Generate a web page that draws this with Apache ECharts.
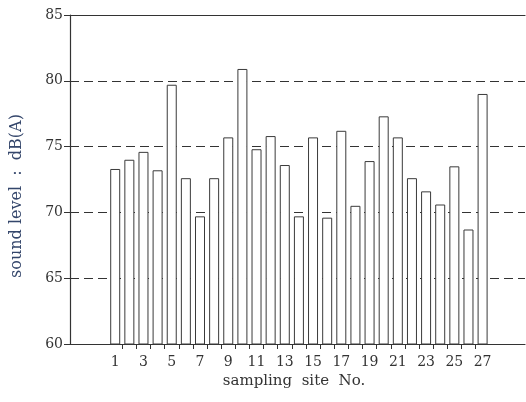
<!DOCTYPE html>
<html>
<head>
<meta charset="utf-8">
<script src="https://cdn.jsdelivr.net/npm/echarts@6/dist/echarts.min.js"></script>
<style>
html,body{margin:0;padding:0;background:#fff;}
#chart{width:526px;height:402px;}
</style>
</head>
<body>
<div id="chart"></div>
<script>
var sites = [1,2,3,4,5,6,7,8,9,10,11,12,13,14,15,16,17,18,19,20,21,22,23,24,25,26,27];
var soundLevels = [73.3,74.0,74.6,73.2,79.7,72.6,69.7,72.6,75.7,80.9,74.8,75.8,73.6,69.7,75.7,69.6,76.2,70.5,73.9,77.3,75.7,72.6,71.6,70.6,73.5,68.7,79.0];
var xTickLabels = [1,3,5,7,9,11,13,15,17,19,21,23,25,27];
var xTickMarks = [1.5,2.5,3.5,4.5,5.5,6.5,7.5,8.5,9.5,10.5,11.5,12.5,13.5,14.5,15.5,16.5,17.5,18.5,19.5,20.5,21.5,22.5,23.5,24.5,25.5,26.5];
var yTicks = [60,65,70,75,80,85];

var serif = '"DejaVu Serif", "Liberation Serif", serif';
var chart = echarts.init(document.getElementById('chart'), null, {renderer:'canvas'});
var barData = sites.map(function(s,i){ return [s, soundLevels[i]]; });

chart.setOption({
  animation:false,
  backgroundColor:'#ffffff',
  grid:{left:70, right:1, top:15, bottom:58},
  xAxis:[{
    type:'value', min:-2.2, max:30,
    axisLine:{show:true, onZero:false, lineStyle:{color:'#333', width:1.2}},
    axisTick:{show:true, customValues:xTickMarks, length:5, lineStyle:{color:'#333'}},
    axisLabel:{customValues:xTickLabels, color:'#333', fontFamily:serif, fontSize:14, margin:11},
    splitLine:{show:false}
  },{
    type:'value', min:-2.2, max:30, position:'top',
    axisLine:{show:true, onZero:false, lineStyle:{color:'#333', width:1.2}},
    axisTick:{show:false}, axisLabel:{show:false}, splitLine:{show:false}
  }],
  yAxis:{
    type:'value', min:yTicks[0], max:yTicks[yTicks.length-1], interval:5,
    axisLine:{show:true, onZero:false, lineStyle:{color:'#333', width:1.2}},
    axisTick:{show:true, length:6, lineStyle:{color:'#333'}},
    axisLabel:{color:'#333', fontFamily:serif, fontSize:14, margin:7},
    splitLine:{show:true, lineStyle:{color:'#333', type:[9,5], width:1}}
  },
  graphic:[
    {type:'text', x:294, y:381, style:{text:'sampling  site  No.', fontFamily:serif, fontSize:15, fill:'#333', align:'center', verticalAlign:'middle'}},
    {type:'text', x:17, y:196, rotation:Math.PI/2, style:{text:'sound level  :  dB(A)', fontFamily:serif, fontSize:16, fill:'#34466b', align:'center', verticalAlign:'middle'}}
  ],
  series:[{
    type:'bar',
    data:barData,
    barWidth:10,
    itemStyle:{color:'#ffffff', borderColor:'#3a3a3a', borderWidth:1}
  }]
});
</script>
</body>
</html>
